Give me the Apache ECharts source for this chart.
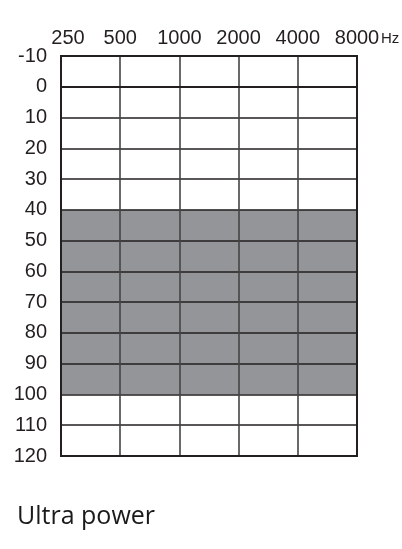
<!DOCTYPE html>
<html>
<head>
<meta charset="utf-8">
<script src="https://cdn.jsdelivr.net/npm/echarts@6/dist/echarts.min.js"></script>
<style>
html,body{margin:0;padding:0;background:#fff;}
#chart{width:402px;height:549px;}
</style>
</head>
<body>
<div id="chart"></div>
<script>
var frequencies = ['250', '500', '1000', '2000', '4000', '8000'];
var yMin = -10;
var yMax = 120;
var yStep = 10;
var rangeLow = 40;
var rangeHigh = 100;
var chartTitle = 'Ultra power';
var unitLabel = 'Hz';

var chart = echarts.init(document.getElementById('chart'));
var textColor = '#231f20';
var numFont = "'Liberation Sans Narrow', 'Liberation Sans', sans-serif";
chart.setOption({
  animation: false,
  backgroundColor: '#fff',
  title: [{
    text: chartTitle,
    left: 12,
    top: 499,
    textStyle: {
      fontFamily: "'Open Sans', sans-serif",
      fontWeight: 'normal',
      fontSize: 25,
      color: '#1a1a1a'
    }
  }, {
    text: unitLabel,
    left: 381,
    top: 31,
    padding: 0,
    textStyle: {
      fontFamily: numFont,
      fontWeight: 'normal',
      fontSize: 15,
      color: textColor
    }
  }],
  grid: {
    left: 61, top: 56, right: 45, bottom: 93,
    show: true,
    borderColor: '#231f20',
    borderWidth: 2,
    backgroundColor: 'transparent',
    z: 4
  },
  xAxis: {
    type: 'category',
    data: frequencies,
    position: 'top',
    boundaryGap: false,
    z: 3,
    axisLine: { show: true, lineStyle: { color: '#231f20', width: 2 } },
    axisTick: { show: false },
    axisLabel: {
      interval: 0,
      hideOverlap: false,
      margin: 8,
      fontFamily: numFont,
      fontSize: 20,
      color: textColor,
      formatter: function (v, i) { return i === 0 ? '{first|' + v + '}' : v; },
      rich: {
        first: { fontFamily: numFont, fontSize: 20, color: textColor, padding: [0, 0, 0, 14] }
      }
    },
    splitLine: { show: true, interval: 0, lineStyle: { color: '#444', width: 1.6 } }
  },
  yAxis: {
    type: 'value',
    inverse: true,
    min: yMin,
    max: yMax,
    interval: yStep,
    z: 3,
    axisLine: { show: true, lineStyle: { color: '#231f20', width: 2 } },
    axisTick: { show: false },
    axisLabel: {
      margin: 14,
      fontFamily: numFont,
      fontSize: 20,
      color: textColor
    },
    splitLine: { show: true, lineStyle: { color: '#231f20', width: 1.6 } }
  },
  series: [{
    type: 'line',
    data: [],
    z: 1,
    markArea: {
      silent: true,
      itemStyle: { color: '#939598', opacity: 1 },
      data: [[
        { xAxis: frequencies[0], yAxis: rangeLow },
        { xAxis: frequencies[frequencies.length - 1], yAxis: rangeHigh }
      ]]
    }
  }]
});
</script>
</body>
</html>
